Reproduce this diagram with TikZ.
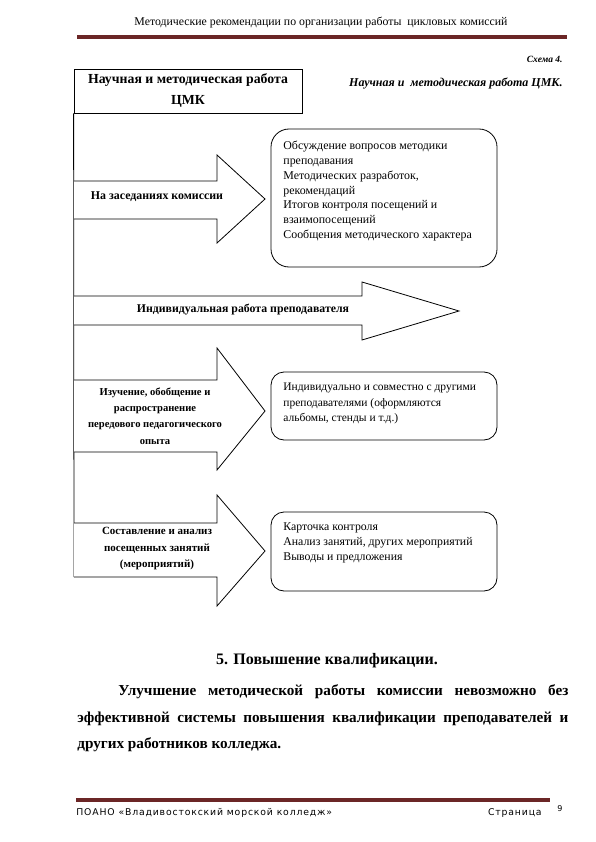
\documentclass[tikz,border=0pt]{standalone}
\usepackage{fontspec}
\setmainfont{Liberation Serif}[BoldFont={Liberation Serif Bold},ItalicFont={Liberation Serif Italic},BoldItalicFont={Liberation Serif Bold Italic}]
\newfontfamily\footfont{DejaVu Sans}
\definecolor{rulered}{HTML}{6B2626}
\begin{document}
\begin{tikzpicture}[x=1pt,y=-1pt,line width=0.8pt,
  boxtext/.style={align=left,anchor=north west,inner sep=0pt},
  arrtext/.style={align=center,inner sep=0pt},
  rbox/.style={draw,minimum width=226pt,inner sep=0pt},
  bigarrow/.style={draw,line join=miter,fill=white},
  ital/.style={inner sep=0pt,font=\bfseries\itshape},
  body/.style={inner sep=0pt,anchor=base west,font=\bfseries\fontsize{15.2}{18}\selectfont}]
\useasboundingbox (0,0) rectangle (595,842);
\fill[white] (0,0) rectangle (595,842);

% header
\node[inner sep=0pt,anchor=base] (hdr) at (321,26) {\fontsize{11.8}{13}\selectfont Методические рекомендации по организации работы \ цикловых комиссий};
\fill[rulered] (77,35) rectangle (567,39);

\node[ital,anchor=base east,font=\bfseries\itshape\fontsize{9.5}{11}\selectfont] (sch) at (563,63) {Схема 4.};
\node[ital,anchor=base east,font=\bfseries\itshape\fontsize{12}{14}\selectfont] (ttl) at (563,87) {Научная и \ методическая работа ЦМК.};

% top box
\node[draw,minimum width=228pt,minimum height=44pt,inner sep=0pt,align=center,
      font=\bfseries\fontsize{13.8}{21}\selectfont] (top) at (188,91) {Научная и методическая работа\\ЦМК};
\coordinate (vend) at (74,577);
\draw (top.south west) -- (vend);

% arrow 1
\draw[bigarrow] (74,181) -- (217,181) -- (217,155) -- (265,199) -- (217,243) -- (217,219) -- (74,219);
\node[arrtext,font=\bfseries\fontsize{11.9}{14}\selectfont] (a1) at (157,197) {На заседаниях комиссии};
% arrow 3 (long)
\draw[bigarrow] (74,296) -- (362,296) -- (362,282) -- (459,311) -- (362,340) -- (362,325) -- (74,325);
\node[arrtext,font=\bfseries\fontsize{11.8}{14}\selectfont] (a3) at (243,310) {Индивидуальная работа преподавателя};
% arrow 2
\draw[bigarrow] (74,380) -- (217,380) -- (217,348) -- (265,411) -- (217,470) -- (217,452) -- (74,452);
\node[arrtext,font=\bfseries\fontsize{10.6}{16.4}\selectfont] (a2) at (155,416) {Изучение, обобщение и\\распространение\\передового педагогического\\опыта};
% arrow 4
\draw[bigarrow] (74,523) -- (217,523) -- (217,495) -- (265,551) -- (217,606) -- (217,577) -- (vend);
\node[arrtext,font=\bfseries\fontsize{11}{16.5}\selectfont] (a4) at (157,549) {Составление и анализ\\посещенных занятий\\(мероприятий)};

% rounded boxes
\node[rbox,rounded corners=18pt,minimum height=138pt] (b1) at (384,198) {};
\node[boxtext,font=\fontsize{11.9}{14.7}\selectfont] (t1) at (283,141) {Обсуждение вопросов методики\\преподавания\\Методических разработок,\\рекомендаций\\Итогов контроля посещений и\\взаимопосещений\\Сообщения методического характера};
\node[rbox,rounded corners=13pt,minimum height=68pt] (b2) at (384,406) {};
\node[boxtext,font=\fontsize{11.5}{15.5}\selectfont] (t2) at (283,383) {Индивидуально и совместно с другими\\преподавателями (оформляются\\альбомы, стенды и т.д.)};
\node[rbox,rounded corners=13pt,minimum height=79pt] (b3) at (384,551.5) {};
\node[boxtext,font=\fontsize{11.8}{15.3}\selectfont] (t3) at (283,522) {Карточка контроля\\Анализ занятий, других мероприятий\\Выводы и предложения};

% section text
\node[inner sep=0pt,anchor=base,font=\bfseries\fontsize{16}{18}\selectfont] (sec) at (327,664) {5. Повышение квалификации.};
\node[body] (p1) at (118,695) {\hbox to 450pt{Улучшение\hfill методической\hfill работы\hfill комиссии\hfill невозможно\hfill без}};
\node[body] (p2) at (77,722) {\hbox to 491pt{эффективной\hfill системы\hfill повышения\hfill квалификации\hfill преподавателей\hfill и}};
\node[body] (p3) at (77,748) {других работников колледжа.};

% footer
\fill[rulered] (76,798) rectangle (550,802);
\node[inner sep=0pt,anchor=base west,font=\footfont\fontsize{9.3}{11}\selectfont] (f1) at (76,815) {\addfontfeatures{LetterSpace=9}ПОАНО «Владивостокский морской колледж»};
\node[inner sep=0pt,anchor=base east,font=\footfont\fontsize{9.3}{11}\selectfont] (f2) at (542,815) {\addfontfeatures{LetterSpace=9}Страница};
\node[inner sep=0pt,anchor=base,font=\footfont\fontsize{8}{10}\selectfont] (f3) at (560,811) {9};
\end{tikzpicture}
\end{document}
